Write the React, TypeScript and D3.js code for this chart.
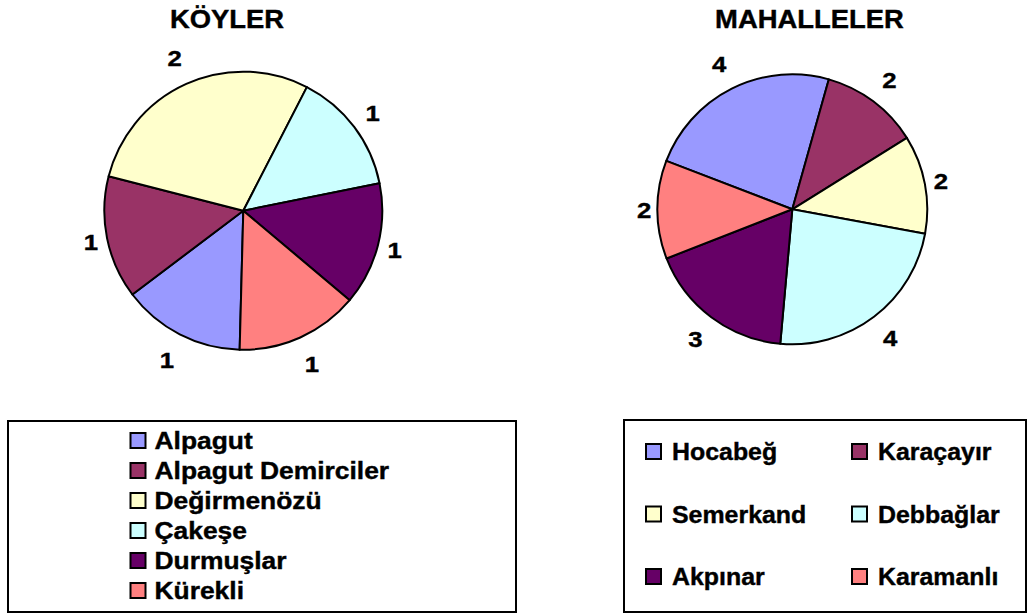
import * as d3 from "d3";
import { useEffect, useRef } from "react";

const koyNames = ["Alpagut", "Alpagut Demirciler", "Değirmenözü", "Çakeşe", "Durmuşlar", "Kürekli"];
const koyValues = [1, 1, 2, 1, 1, 1];

const mahalleNames = ["Hocabeğ", "Karaçayır", "Semerkand", "Debbağlar", "Akpınar", "Karamanlı"];
const mahalleValues = [4, 2, 2, 4, 3, 2];

const sliceColors = ["#9999FF", "#993366", "#FFFFCC", "#CCFFFF", "#660066", "#FF8080"];

// Arial-like bold, slightly widened like the original rendering
const FONT = "'Liberation Sans', Arial, sans-serif";

type Sel = d3.Selection<SVGSVGElement, unknown, null, undefined>;

function drawPie(
  svg: Sel,
  title: string,
  titleX: number,
  names: string[],
  values: number[],
  cx: number,
  cy: number,
  radius: number,
  startDeg: number
) {
  const color = d3.scaleOrdinal<string, string>().domain(names).range(sliceColors);
  const start = (startDeg * Math.PI) / 180;
  const pie = d3
    .pie<number>()
    .sort(null)
    .value((d) => d)
    .startAngle(start)
    .endAngle(start + 2 * Math.PI);
  const arcs = pie(values);
  const arc = d3.arc<d3.PieArcDatum<number>>().innerRadius(0).outerRadius(radius);

  svg
    .append("text")
    .attr("transform", `translate(${titleX},28) scale(1.035,1)`)
    .attr("text-anchor", "middle")
    .style("font-family", FONT)
    .style("font-weight", "bold")
    .style("font-size", "26.5px")
    .style("stroke", "#000")
    .style("stroke-width", 0.4)
    .text(title);

  const g = svg.append("g").attr("transform", `translate(${cx},${cy})`);

  g.selectAll("path")
    .data(arcs)
    .enter()
    .append("path")
    .attr("d", arc)
    .attr("fill", (d, i) => color(names[i]))
    .attr("stroke", "#000")
    .attr("stroke-width", 2)
    .attr("stroke-linejoin", "round");

  // value labels outside the pie, a bit further out at top/bottom
  g.selectAll("text.pie-val")
    .data(arcs)
    .enter()
    .append("text")
    .classed("pie-val", true)
    .attr("transform", (d) => {
      const mid = (d.startAngle + d.endAngle) / 2;
      const r = radius + 13 + 17 * Math.abs(Math.cos(mid));
      return `translate(${Math.sin(mid) * r},${-Math.cos(mid) * r}) scale(1.12,1)`;
    })
    .attr("dy", "0.36em")
    .attr("text-anchor", "middle")
    .style("font-family", FONT)
    .style("font-weight", "bold")
    .style("font-size", "23px")
    .style("stroke", "#000")
    .style("stroke-width", 0.4)
    .text((d) => d.data);

  return color;
}

function addLegend(
  svg: Sel,
  names: string[],
  color: d3.ScaleOrdinal<string, string>,
  box: { x: number; y: number; w: number; h: number },
  colX: number[],
  rowY: number[],
  textGap: number,
  fontSize: number,
  stretch: number
) {
  const g = svg.append("g").classed("legend", true);
  g.append("rect")
    .attr("x", box.x)
    .attr("y", box.y)
    .attr("width", box.w)
    .attr("height", box.h)
    .attr("fill", "#fff")
    .attr("stroke", "#000")
    .attr("stroke-width", 2);

  const cols = colX.length;
  const rows = g
    .selectAll("g.legend-row")
    .data(names)
    .enter()
    .append("g")
    .classed("legend-row", true)
    .attr("transform", (d, i) => `translate(${colX[i % cols]},${rowY[Math.floor(i / cols)]})`);

  rows
    .append("rect")
    .attr("x", 0)
    .attr("y", -7.5)
    .attr("width", 15)
    .attr("height", 15)
    .attr("fill", (d) => color(d))
    .attr("stroke", "#000")
    .attr("stroke-width", 2);

  rows
    .append("text")
    .attr("transform", `translate(${textGap},8.5) scale(${stretch},1)`)
    .style("font-family", FONT)
    .style("font-weight", "bold")
    .style("font-size", fontSize + "px")
    .style("stroke", "#000")
    .style("stroke-width", 0.4)
    .text((d) => d);
}

export default function App() {
  const ref = useRef<SVGSVGElement>(null);

  useEffect(() => {
    const svg = d3.select(ref.current!) as Sel;
    svg.selectAll("*").remove();

    const koyColor = drawPie(svg, "KÖYLER", 227, koyNames, koyValues, 243.3, 210.7, 139, 181.5);
    const mahColor = drawPie(svg, "MAHALLELER", 809.5, mahalleNames, mahalleValues, 792.3, 209.3, 135, 291);

    addLegend(
      svg,
      koyNames,
      koyColor,
      { x: 8, y: 421, w: 508, h: 191 },
      [130.5],
      [440.5, 470.5, 500.5, 530.5, 560.5, 590.5],
      24,
      24,
      1.1
    );
    addLegend(
      svg,
      mahalleNames,
      mahColor,
      { x: 624, y: 420, w: 402, h: 192 },
      [646, 852],
      [451.5, 514, 576.5],
      26,
      23.5,
      1.06
    );
  }, []);

  return (
    <svg
      ref={ref}
      width={1030}
      height={615}
      style={{ position: "absolute", left: 0, top: 0, background: "#fff" }}
    />
  );
}
